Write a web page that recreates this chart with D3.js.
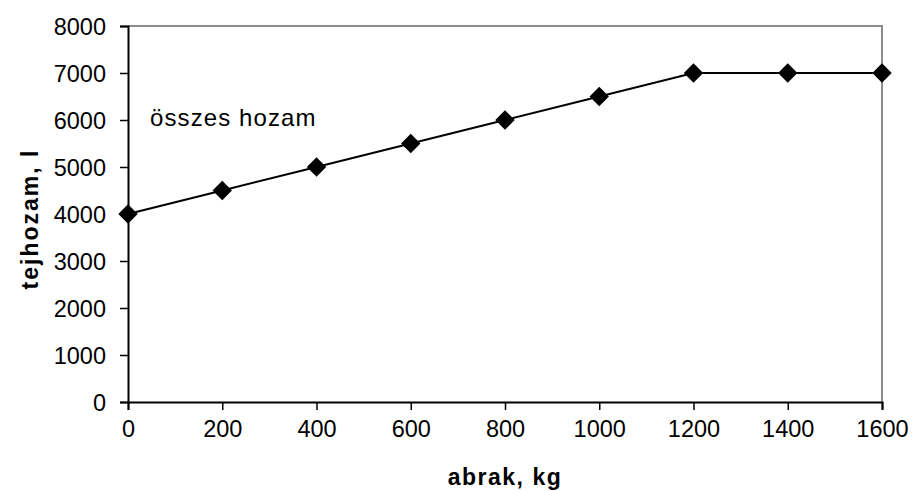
<!DOCTYPE html>
<html>
<head>
<meta charset="utf-8">
<script src="https://cdn.jsdelivr.net/npm/d3@7"></script>
<style>
  body { margin: 0; background: #fff; }
  text { font-family: "Liberation Sans", Arial, sans-serif; }
</style>
</head>
<body>
<div id="chart"></div>
<script>
const abrak = [0, 200, 400, 600, 800, 1000, 1200, 1400, 1600];
const tejhozam = [4000, 4500, 5000, 5500, 6000, 6500, 7000, 7000, 7000];
const xTicks = [0, 200, 400, 600, 800, 1000, 1200, 1400, 1600];
const yTicks = [0, 1000, 2000, 3000, 4000, 5000, 6000, 7000, 8000];

const W = 914, H = 491;
const margin = { left: 128, right: 32, top: 26, bottom: 89 };

const svg = d3.select("#chart").append("svg")
    .attr("width", W)
    .attr("height", H);

const x = d3.scaleLinear().domain([0, 1600]).range([margin.left, W - margin.right]);
const y = d3.scaleLinear().domain([0, 8000]).range([H - margin.bottom, margin.top]);

// top and right frame, gray
svg.append("path")
    .attr("d", `M${x(0)},${y(8000)}H${x(1600)}V${y(0)}`)
    .attr("fill", "none")
    .attr("stroke", "#8c8c8c")
    .attr("stroke-width", 2);

const xAxis = svg.append("g")
    .attr("transform", `translate(0,${y(0)})`)
    .call(d3.axisBottom(x).tickValues(xTicks).tickSize(8).tickPadding(10).tickFormat(d3.format("d")));

const yAxis = svg.append("g")
    .attr("transform", `translate(${x(0)},0)`)
    .call(d3.axisLeft(y).tickValues(yTicks).tickSize(8).tickPadding(14).tickFormat(d3.format("d")));

[xAxis, yAxis].forEach(g => {
    g.attr("font-size", null).attr("font-family", null);
    g.select(".domain").attr("stroke", "#000").attr("stroke-width", 2);
    g.selectAll(".tick line").attr("stroke", "#000").attr("stroke-width", 1.5);
    g.selectAll(".tick text")
        .attr("fill", "#000")
        .style("font-size", "23.5px")
        .style("font-family", "'Liberation Sans', Arial, sans-serif");
});
yAxis.selectAll(".tick text").attr("dy", "0.35em");

const line = d3.line()
    .x((d, i) => x(abrak[i]))
    .y(d => y(d));

svg.append("path")
    .datum(tejhozam)
    .attr("d", line)
    .attr("fill", "none")
    .attr("stroke", "#000")
    .attr("stroke-width", 2);

svg.append("g")
    .selectAll("path")
    .data(tejhozam)
    .join("path")
    .attr("transform", (d, i) => `translate(${x(abrak[i])},${y(d)})`)
    .attr("d", d3.symbol(d3.symbolDiamond2, 240)())
    .attr("fill", "#000");

svg.append("text")
    .attr("x", 150)
    .attr("y", 126)
    .style("font-size", "24px")
    .style("letter-spacing", "1.1px")
    .text("összes hozam");

svg.append("text")
    .attr("x", (x(0) + x(1600)) / 2)
    .attr("y", 485)
    .attr("text-anchor", "middle")
    .style("font-size", "23px")
    .style("font-weight", "bold")
    .style("letter-spacing", "1.5px")
    .text("abrak, kg");

svg.append("text")
    .attr("transform", `translate(38,219) rotate(-90)`)
    .attr("text-anchor", "middle")
    .style("font-size", "23px")
    .style("font-weight", "bold")
    .style("letter-spacing", "2px")
    .text("tejhozam, l");
</script>
</body>
</html>
